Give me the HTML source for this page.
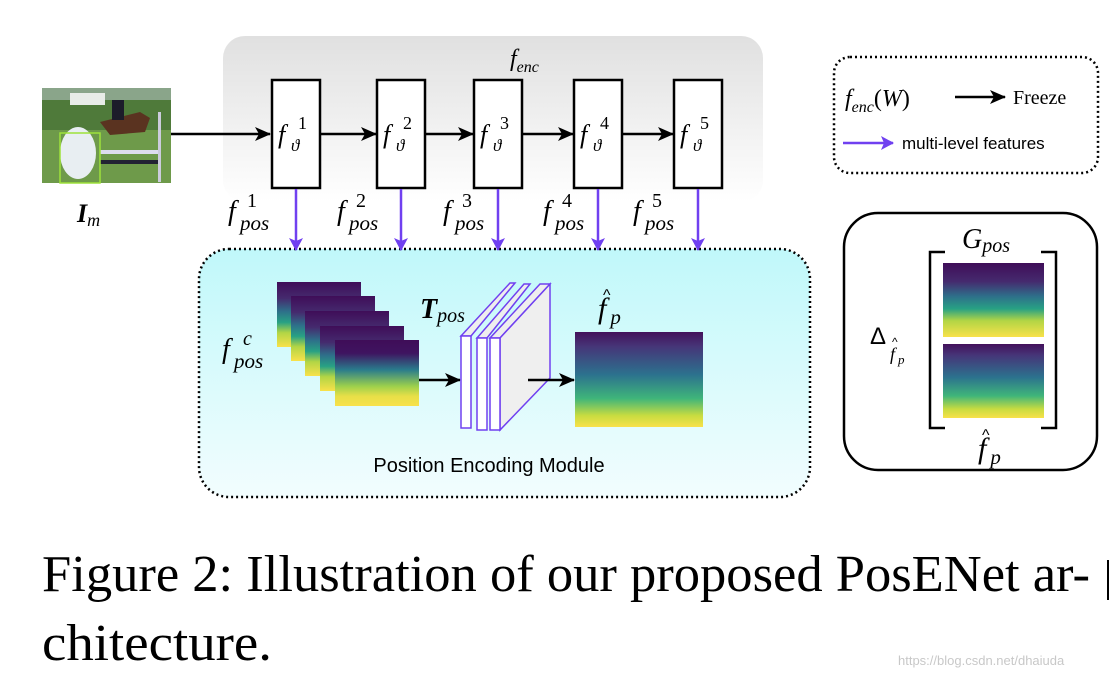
<!DOCTYPE html>
<html><head><meta charset="utf-8"><style>
html,body{margin:0;padding:0;background:#fff;}
svg{display:block;}
.m{font-family:"Liberation Serif",serif;font-style:italic;}
.s{font-family:"Liberation Sans",sans-serif;}
</style></head><body>
<svg width="1110" height="676" viewBox="0 0 1110 676" xmlns="http://www.w3.org/2000/svg">
<defs>
<linearGradient id="gg" x1="0" y1="0" x2="0" y2="1"><stop offset="0" stop-color="#e0e0e0"/><stop offset="1" stop-color="#ffffff"/></linearGradient>
<linearGradient id="bg" x1="0" y1="0" x2="0" y2="1"><stop offset="0" stop-color="#c0f8fa"/><stop offset="1" stop-color="#f2fdfe"/></linearGradient>
<linearGradient id="v1" x1="0" y1="0" x2="0" y2="1"><stop offset="0" stop-color="#3f0d58"/><stop offset="0.25" stop-color="#452a6e"/><stop offset="0.45" stop-color="#2e6f8a"/><stop offset="0.62" stop-color="#28a184"/><stop offset="0.78" stop-color="#b2d545"/><stop offset="1" stop-color="#f8e14a"/></linearGradient>
<linearGradient id="v2" x1="0" y1="0" x2="0" y2="1"><stop offset="0" stop-color="#3f0d58"/><stop offset="0.2" stop-color="#3f1460"/><stop offset="0.45" stop-color="#2a7b8c"/><stop offset="0.7" stop-color="#9cd04c"/><stop offset="0.85" stop-color="#e7df48"/><stop offset="1" stop-color="#f8e14a"/></linearGradient>
<linearGradient id="v3" x1="0" y1="0" x2="0" y2="1"><stop offset="0" stop-color="#43115b"/><stop offset="0.15" stop-color="#463578"/><stop offset="0.45" stop-color="#2c728e"/><stop offset="0.7" stop-color="#3fb57a"/><stop offset="0.88" stop-color="#c8dc40"/><stop offset="1" stop-color="#f8e14a"/></linearGradient>
<marker id="ap" markerWidth="14" markerHeight="14" refX="12" refY="7" orient="auto" markerUnits="userSpaceOnUse"><path d="M0,0 L13,7 L0,14 L3,7 z" fill="#7040f0"/></marker>
<marker id="ab2" markerWidth="16" markerHeight="14" refX="15" refY="7" orient="auto" markerUnits="userSpaceOnUse"><path d="M0,0 L16,7 L0,14 L4,7 z" fill="#000"/></marker>
</defs>
<rect x="223" y="36" width="540" height="166" rx="22" fill="url(#gg)"/>
<text x="510" y="66" class="m" font-size="24">f<tspan font-size="16" dy="6">enc</tspan></text>
<!-- image -->
<rect x="42" y="88" width="129" height="95" fill="#4f7a3a"/>
<rect x="42" y="88" width="129" height="12" fill="#8aa58a"/>
<rect x="70" y="93" width="35" height="12" fill="#e8ece8"/>
<rect x="42" y="130" width="129" height="53" fill="#6e9a4a"/>
<path d="M100,122 L140,112 L150,118 L145,132 L110,135 z" fill="#5a3320"/>
<rect x="112" y="100" width="12" height="20" fill="#1c1c2a"/>
<rect x="100" y="150" width="60" height="4" fill="#dde"/><rect x="100" y="160" width="60" height="4" fill="#223"/>
<rect x="158" y="112" width="3" height="70" fill="#ccd"/>
<ellipse cx="78" cy="153" rx="18" ry="26" fill="#e8eef2"/>
<rect x="60" y="133" width="40" height="50" fill="none" stroke="#9ee23a" stroke-width="1.5"/>
<text x="77" y="222" class="m" font-size="26" font-weight="bold">I<tspan font-size="18" font-weight="normal" dy="4">m</tspan></text>
<line x1="171" y1="134" x2="270" y2="134" stroke="#000" stroke-width="2.5" marker-end="url(#ab2)"/>
<g stroke="#000" stroke-width="2.5" fill="#fff">
<rect x="272" y="80" width="48" height="108"/>
<rect x="377" y="80" width="48" height="108"/>
<rect x="474" y="80" width="48" height="108"/>
<rect x="574" y="80" width="48" height="108"/>
<rect x="674" y="80" width="48" height="108"/>
</g>
<g stroke="#000" stroke-width="2.5">
<line x1="320" y1="134" x2="376" y2="134" marker-end="url(#ab2)"/>
<line x1="425" y1="134" x2="473" y2="134" marker-end="url(#ab2)"/>
<line x1="522" y1="134" x2="573" y2="134" marker-end="url(#ab2)"/>
<line x1="622" y1="134" x2="673" y2="134" marker-end="url(#ab2)"/>
</g>
<g class="m">
<text x="278" y="143" font-size="26">f</text><text x="291" y="151" font-size="17">ϑ</text><text x="298" y="129" font-size="18" font-style="normal">1</text>
<text x="383" y="143" font-size="26">f</text><text x="396" y="151" font-size="17">ϑ</text><text x="403" y="129" font-size="18" font-style="normal">2</text>
<text x="480" y="143" font-size="26">f</text><text x="493" y="151" font-size="17">ϑ</text><text x="500" y="129" font-size="18" font-style="normal">3</text>
<text x="580" y="143" font-size="26">f</text><text x="593" y="151" font-size="17">ϑ</text><text x="600" y="129" font-size="18" font-style="normal">4</text>
<text x="680" y="143" font-size="26">f</text><text x="693" y="151" font-size="17">ϑ</text><text x="700" y="129" font-size="18" font-style="normal">5</text>
</g>
<rect x="199" y="249" width="611" height="248" rx="30" fill="url(#bg)" stroke="#000" stroke-width="2.5" stroke-dasharray="2 3"/>
<g stroke="#7040f0" stroke-width="2.5">
<line x1="296" y1="189" x2="296" y2="250" marker-end="url(#ap)"/>
<line x1="401" y1="189" x2="401" y2="250" marker-end="url(#ap)"/>
<line x1="498" y1="189" x2="498" y2="250" marker-end="url(#ap)"/>
<line x1="598" y1="189" x2="598" y2="250" marker-end="url(#ap)"/>
<line x1="698" y1="189" x2="698" y2="250" marker-end="url(#ap)"/>
</g>
<g class="m">
<text x="228" y="220" font-size="28">f</text><text x="240" y="230" font-size="21">pos</text><text x="247" y="207" font-size="20" font-style="normal">1</text>
<text x="337" y="220" font-size="28">f</text><text x="349" y="230" font-size="21">pos</text><text x="356" y="207" font-size="20" font-style="normal">2</text>
<text x="443" y="220" font-size="28">f</text><text x="455" y="230" font-size="21">pos</text><text x="462" y="207" font-size="20" font-style="normal">3</text>
<text x="543" y="220" font-size="28">f</text><text x="555" y="230" font-size="21">pos</text><text x="562" y="207" font-size="20" font-style="normal">4</text>
<text x="633" y="220" font-size="28">f</text><text x="645" y="230" font-size="21">pos</text><text x="652" y="207" font-size="20" font-style="normal">5</text>
</g>
<rect x="277" y="282" width="84" height="65" fill="url(#v1)"/>
<rect x="291" y="296" width="84" height="65" fill="url(#v1)"/>
<rect x="305" y="311" width="84" height="65" fill="url(#v1)"/>
<rect x="320" y="326" width="84" height="65" fill="url(#v1)"/>
<rect x="335" y="340" width="84" height="66" fill="url(#v2)"/>
<g class="m"><text x="222" y="358" font-size="28">f</text><text x="234" y="368" font-size="21">pos</text><text x="243" y="345" font-size="20">c</text></g>
<line x1="419" y1="380" x2="460" y2="380" stroke="#000" stroke-width="2.5" marker-end="url(#ab2)"/>
<g stroke="#7040f0" stroke-width="1.5">
<polygon points="461,336 510,283 515,283 471,336" fill="#eee"/>
<rect x="461" y="336" width="10" height="92" fill="#fff"/>
<polygon points="477,338 524,284 530,284 487,338" fill="#eee"/>
<rect x="477" y="338" width="10" height="92" fill="#fff"/>
<polygon points="490,338 540,284 550,284 500,338" fill="#eee"/>
<polygon points="500,338 550,284 550,378 500,430" fill="#efefef"/>
<rect x="490" y="338" width="10" height="92" fill="#fff"/>
</g>
<text x="420" y="318" class="m" font-size="28" font-weight="bold">T<tspan font-size="20" font-weight="normal" dy="4">pos</tspan></text>
<line x1="528" y1="380" x2="574" y2="380" stroke="#000" stroke-width="2.5" marker-end="url(#ab2)"/>
<rect x="575" y="332" width="128" height="95" fill="url(#v3)"/>
<text x="598" y="318" class="m" font-size="30">f<tspan font-size="21" dx="4" dy="6">p</tspan></text>
<text x="603" y="300" class="s" font-size="16">^</text>
<text x="489" y="472" class="s" font-size="20" text-anchor="middle">Position Encoding Module</text>
<rect x="834" y="57" width="264" height="116" rx="16" fill="#fff" stroke="#000" stroke-width="2.5" stroke-dasharray="2 3"/>
<text x="845" y="106" class="m" font-size="24">f<tspan font-size="16" dy="6">enc</tspan><tspan dy="-6" font-style="normal">(</tspan>W<tspan font-style="normal">)</tspan></text>
<line x1="955" y1="97" x2="1005" y2="97" stroke="#000" stroke-width="2.5" marker-end="url(#ab2)"/>
<text x="1013" y="104" font-family="Liberation Serif,serif" font-size="20">Freeze</text>
<line x1="843" y1="143" x2="893" y2="143" stroke="#7040f0" stroke-width="2.5" marker-end="url(#ap)"/>
<text x="902" y="149" class="s" font-size="17">multi-level features</text>
<rect x="844" y="213" width="253" height="257" rx="34" fill="#fff" stroke="#000" stroke-width="2.5"/>
<rect x="943" y="263" width="101" height="74" fill="url(#v1)"/>
<rect x="943" y="344" width="101" height="74" fill="url(#v3)"/>
<path d="M945,252 L930,252 L930,428 L945,428" fill="none" stroke="#000" stroke-width="2.5"/>
<path d="M1041,252 L1056,252 L1056,428 L1041,428" fill="none" stroke="#000" stroke-width="2.5"/>
<text x="962" y="248" class="m" font-size="28">G<tspan font-size="20" dy="4">pos</tspan></text>
<text x="870" y="344" font-family="Liberation Sans,sans-serif" font-size="24">Δ</text>
<text x="890" y="360" class="m" font-size="18">f<tspan font-size="13" dx="3" dy="4">p</tspan></text>
<text x="892" y="346" class="s" font-size="12">^</text>
<text x="978" y="458" class="m" font-size="30">f<tspan font-size="21" dx="4" dy="6">p</tspan></text>
<text x="982" y="440" class="s" font-size="16">^</text>
<text x="42" y="591" font-family="Liberation Serif,serif" font-size="52" textLength="1048" lengthAdjust="spacingAndGlyphs">Figure 2: Illustration of our proposed PosENet ar-</text>
<text x="42" y="660" font-family="Liberation Serif,serif" font-size="52" textLength="230" lengthAdjust="spacingAndGlyphs">chitecture.</text>
<rect x="1107" y="560" width="2" height="40" fill="#000"/>
<text x="898" y="665" class="s" font-size="13" fill="#c8c8c8">https://blog.csdn.net/dhaiuda</text>
</svg>
</body></html>
